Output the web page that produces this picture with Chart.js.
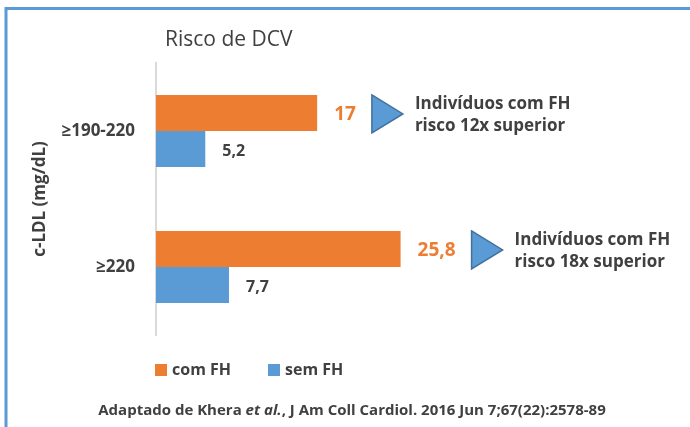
<!DOCTYPE html>
<html>
<head>
<meta charset="utf-8">
<script src="https://cdn.jsdelivr.net/npm/chart.js@4.4.1/dist/chart.umd.min.js"></script>
<style>
  html, body { margin: 0; padding: 0; background: #fff; }
  #wrap { width: 690px; height: 427px; }
</style>
</head>
<body>
<div id="wrap"><canvas id="riskChart" width="690" height="427"></canvas></div>
<script>
// chart data
const categories = ['≥190-220', '≥220'];
const comFH = [17, 25.8];
const semFH = [5.2, 7.7];
const seriesNames = ['com FH', 'sem FH'];
const notes = [
    ['Indivíduos com FH', 'risco 12x superior'],
    ['Indivíduos com FH', 'risco 18x superior']
];
const chartTitle = 'Risco de DCV';
const axisTitle = 'c-LDL (mg/dL)';
const sourceParts = [
    ['Adaptado de Khera ', false],
    ['et al.', true],
    [', J Am Coll Cardiol. 2016 Jun 7;67(22):2578-89', false]
];

const ORANGE = '#ED7D31';
const BLUE = '#5B9BD5';
const TEXT = '#404040';
const FONT = '"Open Sans", "Noto Sans", sans-serif';

// everything drawn around the bars
const extrasPlugin = {
    id: 'extras',
    afterDraw(chart) {
        const ctx = chart.ctx;
        ctx.save();

        // frame lines
        ctx.strokeStyle = BLUE;
        ctx.lineWidth = 3;
        ctx.beginPath();
        ctx.moveTo(690, 8.5);
        ctx.lineTo(6, 8.5);
        ctx.lineTo(6, 427);
        ctx.stroke();

        // title
        ctx.fillStyle = TEXT;
        ctx.font = '21px ' + FONT;
        ctx.textBaseline = 'middle';
        ctx.textAlign = 'left';
        ctx.fillText(chartTitle, 165, 40);

        // value labels
        chart.data.datasets.forEach((ds, di) => {
            const meta = chart.getDatasetMeta(di);
            meta.data.forEach((bar, i) => {
                const txt = String(ds.data[i]).replace('.', ',');
                ctx.fillStyle = di === 0 ? ORANGE : TEXT;
                ctx.font = (di === 0 ? 'bold 19px ' : 'bold 16px ') + FONT;
                ctx.fillText(txt, bar.x + 17, bar.y + 2);

                if (di === 0) {
                    const end = bar.x + 17 + ctx.measureText(txt).width;
                    const tx = end + 16;
                    const cy = bar.y + 1;
                    ctx.beginPath();
                    ctx.moveTo(tx, cy - 19);
                    ctx.lineTo(tx + 31, cy);
                    ctx.lineTo(tx, cy + 19);
                    ctx.closePath();
                    ctx.fillStyle = BLUE;
                    ctx.fill();
                    ctx.strokeStyle = '#41719C';
                    ctx.lineWidth = 1.5;
                    ctx.stroke();

                    ctx.fillStyle = TEXT;
                    ctx.font = 'bold 17px ' + FONT;
                    ctx.fillText(notes[i][0], tx + 43, cy - 10);
                    ctx.fillText(notes[i][1], tx + 43, cy + 12);
                }
            });
        });

        // legend
        const legendX = [155, 268];
        chart.data.datasets.forEach((ds, di) => {
            ctx.fillStyle = ds.backgroundColor;
            ctx.fillRect(legendX[di], 364, 12, 12);
            ctx.fillStyle = TEXT;
            ctx.font = 'bold 16px ' + FONT;
            ctx.fillText(ds.label, legendX[di] + 17, 370);
        });

        // source line
        let total = 0;
        sourceParts.forEach(p => {
            ctx.font = (p[1] ? 'italic bold 15px ' : 'bold 15px ') + FONT;
            total += ctx.measureText(p[0]).width;
        });
        let x = 352 - total / 2;
        sourceParts.forEach(p => {
            ctx.font = (p[1] ? 'italic bold 15px ' : 'bold 15px ') + FONT;
            ctx.fillText(p[0], x, 411);
            x += ctx.measureText(p[0]).width;
        });

        ctx.restore();
    }
};

const ctx = document.getElementById('riskChart').getContext('2d');
new Chart(ctx, {
    type: 'bar',
    data: {
        labels: categories,
        datasets: [
            { label: seriesNames[0], data: comFH, backgroundColor: ORANGE },
            { label: seriesNames[1], data: semFH, backgroundColor: BLUE }
        ]
    },
    options: {
        indexAxis: 'y',
        responsive: false,
        animation: false,
        layout: { padding: { top: 63, bottom: 92, left: 0, right: 60 } },
        datasets: { bar: { categoryPercentage: 0.53, barPercentage: 1.0 } },
        plugins: {
            legend: { display: false },
            title: { display: false },
            tooltip: { enabled: false }
        },
        scales: {
            x: { display: false, min: 0, max: 50 },
            y: {
                afterFit(scale) { scale.width = 156; },
                grid: { display: false, drawTicks: false },
                border: { display: true, color: '#D9D9D9', width: 2 },
                ticks: {
                    padding: 21,
                    color: TEXT,
                    font: { family: FONT, size: 17, weight: 'bold' }
                },
                title: {
                    display: true,
                    text: axisTitle,
                    color: TEXT,
                    padding: { top: 30, bottom: 0 },
                    font: { family: FONT, size: 17, weight: 'bold' }
                }
            }
        }
    },
    plugins: [extrasPlugin]
});
</script>
</body>
</html>
